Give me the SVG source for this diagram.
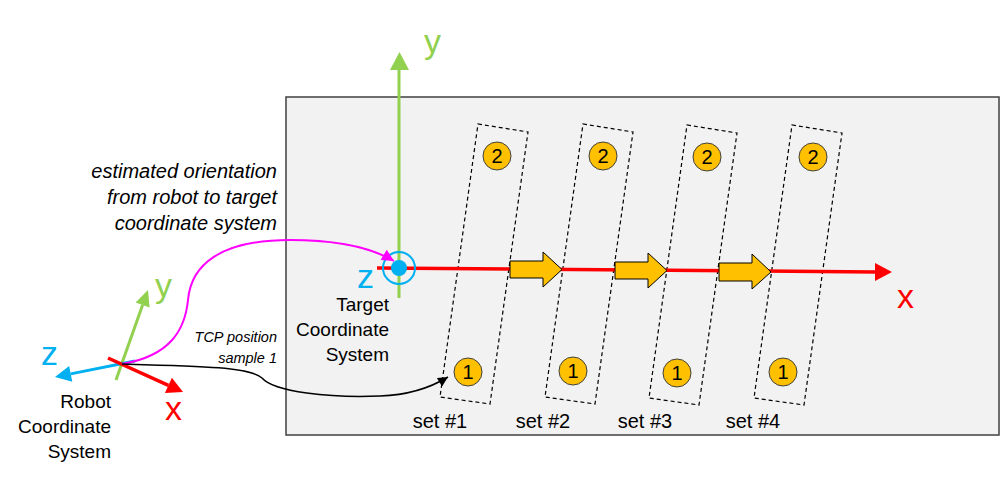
<svg xmlns="http://www.w3.org/2000/svg" width="1001" height="479" viewBox="0 0 1001 479">
<style>
.t{font-family:"Liberation Sans",Arial,sans-serif;fill:#000}
.it{font-style:italic}
.ax{font-family:"Liberation Sans",Arial,sans-serif;font-size:34px}
.set{fill:none;stroke:#000;stroke-width:1.2;stroke-dasharray:4 3}
.pt{fill:#ffc000;stroke:#404040;stroke-width:1}
.pn{font-family:"Liberation Sans",Arial,sans-serif;font-size:20px;text-anchor:middle;fill:#000}
.blk{fill:#ffc000;stroke:#000;stroke-width:1}
</style>
<defs>
<marker id="mh" viewBox="0 0 10 10" refX="10" refY="5" markerWidth="14" markerHeight="12" markerUnits="userSpaceOnUse" orient="auto"><path d="M0,0 L10,5 L0,10 z" fill="#ff00ff"/></marker>
<marker id="kh" viewBox="0 0 10 10" refX="10" refY="5" markerWidth="12" markerHeight="10" markerUnits="userSpaceOnUse" orient="auto"><path d="M0,0 L10,5 L0,10 z" fill="#000"/></marker>
</defs>
<rect width="1001" height="479" fill="#fff"/>
<g id="plate">
<rect x="286" y="97" width="713" height="338" fill="#f2f2f2" stroke="#404040" stroke-width="1.5"/>
</g>
<g id="set1">
<polygon class="set" points="0,0 50,8 12,280 -38,273" transform="translate(478,124)"/>
<circle class="pt" cx="497" cy="156" r="14"/><text class="pn" x="497" y="163">2</text>
<circle class="pt" cx="468" cy="372" r="14"/><text class="pn" x="468" y="379">1</text>
<text class="t" x="440" y="428" font-size="20" text-anchor="middle">set #1</text>
</g>
<g id="set2">
<polygon class="set" points="0,0 50,8 12,280 -38,273" transform="translate(583,124)"/>
<circle class="pt" cx="603" cy="156" r="14"/><text class="pn" x="603" y="163">2</text>
<circle class="pt" cx="573" cy="371" r="14"/><text class="pn" x="573" y="378">1</text>
<text class="t" x="543" y="428" font-size="20" text-anchor="middle">set #2</text>
</g>
<g id="set3">
<polygon class="set" points="0,0 50,8 12,280 -38,273" transform="translate(687,125)"/>
<circle class="pt" cx="707" cy="157" r="14"/><text class="pn" x="707" y="164">2</text>
<circle class="pt" cx="677" cy="373" r="14"/><text class="pn" x="677" y="380">1</text>
<text class="t" x="645" y="428" font-size="20" text-anchor="middle">set #3</text>
</g>
<g id="set4">
<polygon class="set" points="0,0 50,8 12,280 -38,273" transform="translate(792,125)"/>
<circle class="pt" cx="813" cy="157" r="14"/><text class="pn" x="813" y="164">2</text>
<circle class="pt" cx="783" cy="372" r="14"/><text class="pn" x="783" y="379">1</text>
<text class="t" x="753" y="428" font-size="20" text-anchor="middle">set #4</text>
</g>
<g id="target-cs">
<line x1="377" y1="268" x2="876" y2="272" stroke="#ff0000" stroke-width="3.5"/>
<polygon points="875,263 875,281 892,272" fill="#ff0000"/>
<text class="ax" x="897" y="308" fill="#ff0000">x</text>
<line x1="399" y1="298" x2="399" y2="69" stroke="#92d050" stroke-width="3"/>
<polygon points="390,70 409,70 399.5,52" fill="#92d050"/>
<text class="ax" x="424" y="53" fill="#92d050">y</text>
<circle cx="399" cy="268" r="16" fill="none" stroke="#00b0f0" stroke-width="2"/>
<circle cx="399" cy="268" r="8" fill="#00b0f0"/>
<text class="ax" x="357" y="288" fill="#00b0f0" font-size="32">z</text>
<text class="t" font-size="19" text-anchor="end"><tspan x="389" y="311">Target</tspan><tspan x="389" y="336">Coordinate</tspan><tspan x="389" y="361">System</tspan></text>
</g>
<g id="moves">
<polygon class="blk" points="510,261 543,261 543,252 562,269.5 543,287 543,278 510,278"/>
<polygon class="blk" points="615,262 648,262 648,253 667,270.5 648,288 648,279 615,279"/>
<polygon class="blk" points="719,263 752,263 752,254 771,272 752,289 752,281 719,281"/>
</g>
<g id="robot-cs">
<line x1="116" y1="380" x2="142.6" y2="305.1" stroke="#92d050" stroke-width="3"/>
<polygon points="149.6,307.5 135.6,302.5 148,290" fill="#92d050"/>
<text class="ax" x="155" y="297" fill="#92d050">y</text>
<line x1="135" y1="361" x2="70.7" y2="373.9" stroke="#00b0f0" stroke-width="3"/>
<polygon points="72.3,381.7 69.1,366.1 55,377" fill="#00b0f0"/>
<text class="ax" x="41" y="365" fill="#00b0f0" font-size="32">z</text>
<line x1="108" y1="358" x2="168.4" y2="385.4" stroke="#ff0000" stroke-width="3.5"/>
<polygon points="164.9,393.1 171.9,377.7 183,392" fill="#ff0000"/>
<text class="ax" x="165" y="420" fill="#ff0000">x</text>
<text class="t" font-size="19" text-anchor="end"><tspan x="111" y="408">Robot</tspan><tspan x="111" y="433">Coordinate</tspan><tspan x="111" y="458">System</tspan></text>
</g>
<g id="connectors">
<path d="M122,364 C170,356 185,330 188,300 C191,265 220,240 290,240 C340,240 372,248 394,261" fill="none" stroke="#ff00ff" stroke-width="2" marker-end="url(#mh)"/>
<path d="M122,364 C200,366 250,367 262,378 C274,392 330,398 380,396 C410,395 430,388 448,377" fill="none" stroke="#000" stroke-width="1.5" marker-end="url(#kh)"/>
</g>
<g id="labels">
<text class="t it" font-size="20" text-anchor="end"><tspan x="277" y="178">estimated orientation</tspan><tspan x="277" y="204">from robot to target</tspan><tspan x="277" y="230">coordinate system</tspan></text>
<text class="t it" font-size="14.5" text-anchor="end"><tspan x="277" y="342">TCP position</tspan><tspan x="277" y="363">sample 1</tspan></text>
</g>
</svg>
